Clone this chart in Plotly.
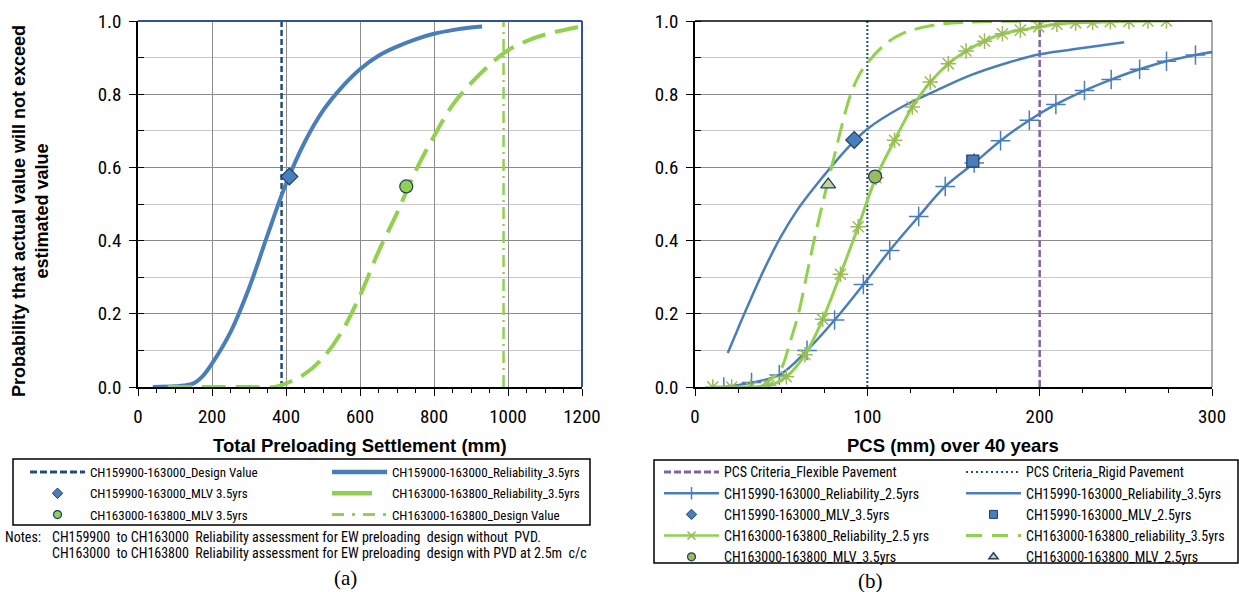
import plotly.graph_objects as go

W, H = 1239, 592
def px(x): return x / W
def py(y): return 1 - y / H

# ---------------- data: panel (a) ----------------
a_rel35_x = [40, 100, 125, 150, 175, 200, 250, 300, 350, 400, 450, 500, 550, 600, 650, 700, 750, 800, 850, 900, 930]
a_rel35_y = [0.0, 0.002, 0.004, 0.01, 0.03, 0.064, 0.15, 0.27, 0.415, 0.555, 0.668, 0.755, 0.818, 0.868, 0.905, 0.93, 0.95, 0.965, 0.975, 0.982, 0.985]
a_grn35_x = [80, 200, 300, 370, 400, 450, 500, 550, 600, 650, 700, 750, 800, 850, 900, 950, 1000, 1050, 1100, 1150, 1200]
a_grn35_y = [0.0, 0.0, 0.0, 0.0, 0.01, 0.035, 0.08, 0.15, 0.25, 0.37, 0.475, 0.59, 0.685, 0.77, 0.83, 0.88, 0.92, 0.945, 0.963, 0.975, 0.986]
a_design_blue = 388
a_design_green = 988
a_mlv_blue = (409, 0.575)
a_mlv_green = (725, 0.548)

# ---------------- data: panel (b) ----------------
b_blue25_x = [16.7, 32.8, 48.9, 65.0, 81.0, 97.7, 113.0, 129.8, 145.2, 162.0, 177.3, 194.0, 209.4, 226.0, 241.5, 258.0, 273.6, 290.4, 306.5]
b_blue25_y = [0.0, 0.012, 0.033, 0.1, 0.183, 0.28, 0.373, 0.466, 0.548, 0.612, 0.673, 0.729, 0.772, 0.81, 0.84, 0.868, 0.89, 0.907, 0.92]
b_blue35_x = [19, 25, 30, 40, 50, 60, 70, 80, 90, 100, 120, 140, 160, 180, 200, 225, 249]
b_blue35_y = [0.093, 0.16, 0.215, 0.32, 0.412, 0.488, 0.55, 0.607, 0.66, 0.705, 0.765, 0.81, 0.852, 0.884, 0.909, 0.926, 0.942]
b_grn25_x = [10.3, 21.3, 32.3, 42.7, 53.0, 63.8, 74.1, 84.4, 94.7, 105.0, 115.8, 126.1, 136.5, 147.0, 157.3, 168.0, 178.4, 188.8, 199.5, 210.0, 220.9, 230.7, 241.0, 251.8, 262.8, 273.6]
b_grn25_y = [0.0, 0.0, 0.0, 0.004, 0.028, 0.088, 0.185, 0.308, 0.438, 0.572, 0.674, 0.765, 0.833, 0.883, 0.918, 0.945, 0.965, 0.975, 0.984, 0.991, 0.995, 0.996, 0.998, 0.999, 1.0, 1.0]
b_grn35_x = [38, 45, 50, 55, 60, 65, 70, 75, 80, 85, 90, 95, 100, 110, 120, 140, 160, 200, 250]
b_grn35_y = [0.0, 0.025, 0.05, 0.12, 0.2, 0.31, 0.42, 0.52, 0.615, 0.71, 0.795, 0.85, 0.885, 0.935, 0.965, 0.99, 0.997, 1.0, 1.0]
b_flexible = 200
b_rigid = 100
b_mlv_blue35 = (92.4, 0.675)
b_mlv_blue25 = (161.2, 0.617)
b_mlv_grn35 = (104.5, 0.575)
b_mlv_grn25 = (77.3, 0.553)

# ---------------- styles ----------------
BLUE = '#4a7ebb'
DARKBLUE = '#1f4e79'
GREEN = '#92d050'
OLIVE = '#9bbb59'
PURPLE = '#8064a2'
OUTLINE = '#1f3f6e'
SANS = 'Liberation Sans, Arial, sans-serif'
NARROW = 'Roboto Condensed, Liberation Sans Narrow, Arial Narrow, sans-serif'
SERIF = 'Liberation Serif, Times New Roman, serif'

fig = go.Figure()

def add(tr):
    fig.add_trace(tr)

# ---- panel (a) traces ----
add(go.Scatter(x=[a_design_blue, a_design_blue], y=[0, 1], mode='lines',
               line=dict(color=DARKBLUE, width=2.5, dash='6px,3px'), showlegend=False, xaxis='x', yaxis='y'))
add(go.Scatter(x=[a_design_green, a_design_green], y=[0, 1], mode='lines',
               line=dict(color=GREEN, width=2.5, dash='12px,5px,2px,5px'), showlegend=False, xaxis='x', yaxis='y'))
add(go.Scatter(x=a_rel35_x, y=a_rel35_y, mode='lines', line=dict(color=BLUE, width=4, shape='spline', smoothing=1.0),
               showlegend=False, xaxis='x', yaxis='y'))
add(go.Scatter(x=a_grn35_x, y=a_grn35_y, mode='lines', line=dict(color=GREEN, width=4, shape='spline', dash='24px,10px'),
               showlegend=False, xaxis='x', yaxis='y'))
add(go.Scatter(x=[a_mlv_blue[0]], y=[a_mlv_blue[1]], mode='markers',
               marker=dict(symbol='diamond', size=13, color=BLUE, line=dict(color=OUTLINE, width=1.2)),
               showlegend=False, xaxis='x', yaxis='y'))
add(go.Scatter(x=[a_mlv_green[0]], y=[a_mlv_green[1]], mode='markers',
               marker=dict(symbol='circle', size=13, color=GREEN, line=dict(color=OUTLINE, width=1.2)),
               showlegend=False, xaxis='x', yaxis='y'))

# ---- panel (b) traces ----
add(go.Scatter(x=[b_flexible, b_flexible], y=[0, 1], mode='lines',
               line=dict(color=PURPLE, width=2.5, dash='7px,3px'), showlegend=False, xaxis='x2', yaxis='y2'))
add(go.Scatter(x=[b_rigid, b_rigid], y=[0, 1], mode='lines',
               line=dict(color=DARKBLUE, width=2, dash='2px,2px'), showlegend=False, xaxis='x2', yaxis='y2'))
add(go.Scatter(x=b_blue35_x, y=b_blue35_y, mode='lines', line=dict(color=BLUE, width=2.5, shape='spline'),
               showlegend=False, xaxis='x2', yaxis='y2'))
add(go.Scatter(x=b_blue25_x, y=b_blue25_y, mode='lines+markers', line=dict(color=BLUE, width=2.5, shape='spline'),
               marker=dict(symbol='cross-thin', size=14, line=dict(color=BLUE, width=1.5)),
               showlegend=False, xaxis='x2', yaxis='y2'))
add(go.Scatter(x=b_grn35_x, y=b_grn35_y, mode='lines', line=dict(color=GREEN, width=3, shape='spline', dash='20px,9px'),
               showlegend=False, xaxis='x2', yaxis='y2'))
add(go.Scatter(x=b_grn25_x, y=b_grn25_y, mode='lines+markers', line=dict(color=GREEN, width=3, shape='spline'),
               marker=dict(symbol='asterisk', size=13, line=dict(color=OLIVE, width=1.5)),
               showlegend=False, xaxis='x2', yaxis='y2'))
add(go.Scatter(x=[b_mlv_blue35[0]], y=[b_mlv_blue35[1]], mode='markers',
               marker=dict(symbol='diamond', size=13, color=BLUE, line=dict(color=OUTLINE, width=1.2)),
               showlegend=False, xaxis='x2', yaxis='y2'))
add(go.Scatter(x=[b_mlv_blue25[0]], y=[b_mlv_blue25[1]], mode='markers',
               marker=dict(symbol='square', size=12, color=BLUE, line=dict(color=OUTLINE, width=1.2)),
               showlegend=False, xaxis='x2', yaxis='y2'))
add(go.Scatter(x=[b_mlv_grn35[0]], y=[b_mlv_grn35[1]], mode='markers',
               marker=dict(symbol='circle', size=13, color=OLIVE, line=dict(color=OUTLINE, width=1.2)),
               showlegend=False, xaxis='x2', yaxis='y2'))
add(go.Scatter(x=[b_mlv_grn25[0]], y=[b_mlv_grn25[1]], mode='markers',
               marker=dict(symbol='triangle-up', size=13, color='#c3d69b', line=dict(color=OUTLINE, width=1.2)),
               showlegend=False, xaxis='x2', yaxis='y2'))

# ---- legend entries ----
_gid = [0]
def leg(name, legend, xa, ya, mode, line=None, marker=None):
    _gid[0] += 1
    kw = dict(x=[None], y=[None], mode=mode, name=name, legend=legend, xaxis=xa, yaxis=ya, showlegend=True,
              legendgroup='g%d' % _gid[0])
    if line is not None:
        kw['line'] = line
    if marker is not None:
        kw['marker'] = marker
    add(go.Scatter(**kw))

leg('CH159900-163000_Design Value', 'legend', 'x', 'y', 'lines', line=dict(color=DARKBLUE, width=3, dash='7px,3px'))
leg('CH159900-163000_MLV 3.5yrs', 'legend', 'x', 'y', 'markers',
    marker=dict(symbol='diamond', size=8, color=BLUE, line=dict(color=OUTLINE, width=1)))
leg('CH163000-163800_MLV 3.5yrs', 'legend', 'x', 'y', 'markers',
    marker=dict(symbol='circle', size=8, color=GREEN, line=dict(color=OUTLINE, width=1.2)))
leg('CH159000-163000_Reliability_3.5yrs', 'legend2', 'x', 'y', 'lines', line=dict(color=BLUE, width=4.5))
leg('CH163000-163800_Reliability_3.5yrs', 'legend2', 'x', 'y', 'lines', line=dict(color=GREEN, width=4.5, dash='40px,30px'))
leg('CH163000-163800_Design Value', 'legend2', 'x', 'y', 'lines', line=dict(color=GREEN, width=3, dash='12px,8px,3px,8px'))

leg('PCS Criteria_Flexible Pavement', 'legend3', 'x2', 'y2', 'lines', line=dict(color=PURPLE, width=3, dash='7px,3px'))
leg('CH15990-163000_Reliability_2.5yrs', 'legend3', 'x2', 'y2', 'lines+markers', line=dict(color=BLUE, width=2.5),
    marker=dict(symbol='cross-thin', size=9, line=dict(color=BLUE, width=1.5)))
leg('CH15990-163000_MLV_3.5yrs', 'legend3', 'x2', 'y2', 'markers',
    marker=dict(symbol='diamond', size=8, color=BLUE, line=dict(color=OUTLINE, width=1)))
leg('CH163000-163800_Reliability_2.5 yrs', 'legend3', 'x2', 'y2', 'lines+markers', line=dict(color=GREEN, width=2.5),
    marker=dict(symbol='x-thin', size=8, line=dict(color=OLIVE, width=1.5)))
leg('CH163000-163800_MLV_3.5yrs', 'legend3', 'x2', 'y2', 'markers',
    marker=dict(symbol='circle', size=8, color=OLIVE, line=dict(color=OUTLINE, width=1.2)))

leg('PCS Criteria_Rigid Pavement', 'legend4', 'x2', 'y2', 'lines', line=dict(color=DARKBLUE, width=2, dash='2px,3px'))
leg('CH15990-163000_Reliability_3.5yrs', 'legend4', 'x2', 'y2', 'lines', line=dict(color=BLUE, width=2.5))
leg('CH15990-163000_MLV_2.5yrs', 'legend4', 'x2', 'y2', 'markers',
    marker=dict(symbol='square', size=8, color=BLUE, line=dict(color=OUTLINE, width=1)))
leg('CH163000-163800_reliability_3.5yrs', 'legend4', 'x2', 'y2', 'lines', line=dict(color=GREEN, width=3, dash='16px,10px'))
leg('CH163000-163800_MLV_2.5yrs', 'legend4', 'x2', 'y2', 'markers',
    marker=dict(symbol='triangle-up', size=8, color='#c3d69b', line=dict(color=OUTLINE, width=1.5)))

# ---------------- layout ----------------
tickfont = dict(family=NARROW, size=19, color='black')

def xax(domain, rng, dtick, mdtick, grid):
    return dict(domain=domain, range=rng, dtick=dtick, tick0=0, showgrid=grid, gridcolor='#8c8c8c', gridwidth=1,
                showline=True, linecolor='black', linewidth=1.5, ticks='outside', ticklen=7, tickcolor='black',
                tickwidth=1.2, tickfont=tickfont, zeroline=False, fixedrange=True, ticklabelstandoff=4,
                minor=dict(dtick=mdtick, tick0=0, ticks='outside', ticklen=4, tickcolor='black', showgrid=False))

def yax(anchor):
    return dict(domain=[py(387), py(21)], range=[0, 1], dtick=0.2, tick0=0, tickformat='.1f', showgrid=True,
                gridcolor='#8c8c8c', gridwidth=1, showline=True, linecolor='black', linewidth=1.5,
                ticks='outside', ticklen=7, tickcolor='black', tickwidth=1.2, tickfont=tickfont, zeroline=False,
                anchor=anchor, fixedrange=True, ticklabelstandoff=4,
                minor=dict(dtick=0.1, tick0=0, ticks='inside', ticklen=6, tickcolor='black',
                           showgrid=True, gridcolor='#c8c8c8', gridwidth=1))

def legobj(xpx, ytop, size, gap):
    return dict(x=px(xpx), y=py(ytop), xanchor='left', yanchor='top', orientation='v', itemwidth=55,
                font=dict(family=NARROW, size=size, color='black'), bgcolor='rgba(0,0,0,0)', borderwidth=0,
                tracegroupgap=gap, traceorder='grouped')

shapes = [
    # panel (a) frame top/right
    dict(type='line', xref='x domain', yref='y domain', x0=0, x1=1, y0=1, y1=1, line=dict(color='#2f5597', width=2)),
    dict(type='line', xref='x domain', yref='y domain', x0=1, x1=1, y0=0, y1=1, line=dict(color='#2f5597', width=2)),
    # panel (b) frame top/right
    dict(type='line', xref='x2 domain', yref='y2 domain', x0=0, x1=1, y0=1, y1=1, line=dict(color='black', width=1.5)),
    dict(type='line', xref='x2 domain', yref='y2 domain', x0=1, x1=1, y0=0, y1=1, line=dict(color='#555555', width=1)),
    # legend boxes
    dict(type='rect', xref='paper', yref='paper', x0=px(13), x1=px(590), y0=py(459), y1=py(525),
         line=dict(color='black', width=1.5), fillcolor='rgba(0,0,0,0)'),
    dict(type='rect', xref='paper', yref='paper', x0=px(654), x1=px(1238), y0=py(460), y1=py(563),
         line=dict(color='black', width=1.5), fillcolor='rgba(0,0,0,0)'),
]

notefont = dict(family=NARROW, size=14, color='black')
annotations = [
    dict(text='<b>Total Preloading Settlement (mm)</b>', x=px(360), y=py(445), xref='paper', yref='paper',
         xanchor='center', yanchor='middle', showarrow=False, font=dict(family=SANS, size=18.5, color='black')),
    dict(text='<b>PCS (mm) over 40 years</b>', x=px(953), y=py(445), xref='paper', yref='paper',
         xanchor='center', yanchor='middle', showarrow=False, font=dict(family=SANS, size=18.5, color='black')),
    dict(text='<b>Probability that actual value will not exceed<br>estimated value</b>', x=px(31), y=py(211),
         xref='paper', yref='paper', xanchor='center', yanchor='middle', textangle=-90, showarrow=False,
         font=dict(family=SANS, size=18, color='black')),
    dict(text='Notes:', x=px(3), y=py(537), xref='paper', yref='paper', xanchor='left', yanchor='middle',
         showarrow=False, font=notefont),
    dict(text='CH159900  to CH163000  Reliability assessment for EW preloading  design without  PVD.',
         x=px(50), y=py(537), xref='paper', yref='paper', xanchor='left', yanchor='middle',
         showarrow=False, font=notefont),
    dict(text='CH163000  to CH163800  Reliability assessment for EW preloading  design with PVD at 2.5m  c/c',
         x=px(50), y=py(553), xref='paper', yref='paper', xanchor='left', yanchor='middle',
         showarrow=False, font=notefont),
    dict(text='(a)', x=px(345), y=py(578), xref='paper', yref='paper', xanchor='center', yanchor='middle',
         showarrow=False, font=dict(family=SERIF, size=21, color='black')),
    dict(text='(b)', x=px(870), y=py(581), xref='paper', yref='paper', xanchor='center', yanchor='middle',
         showarrow=False, font=dict(family=SERIF, size=21, color='black')),
]

fig.update_layout(
    width=W, height=H, margin=dict(l=0, r=0, t=0, b=0, autoexpand=False),
    paper_bgcolor='white', plot_bgcolor='white',
    xaxis=xax([px(138), px(582)], [0, 1200], 200, 50, True),
    yaxis=yax('x'),
    xaxis2=xax([px(695), px(1212)], [0, 300], 100, 25, False),
    yaxis2=yax('x2'),
    legend=legobj(25, 457, 13, 1.4),
    legend2=legobj(327, 457, 13, 1.4),
    legend3=legobj(659, 456.4, 14, 0),
    legend4=legobj(961, 456.4, 14, 0),
    shapes=shapes,
    annotations=annotations,
)

fig.write_html('out.html')
